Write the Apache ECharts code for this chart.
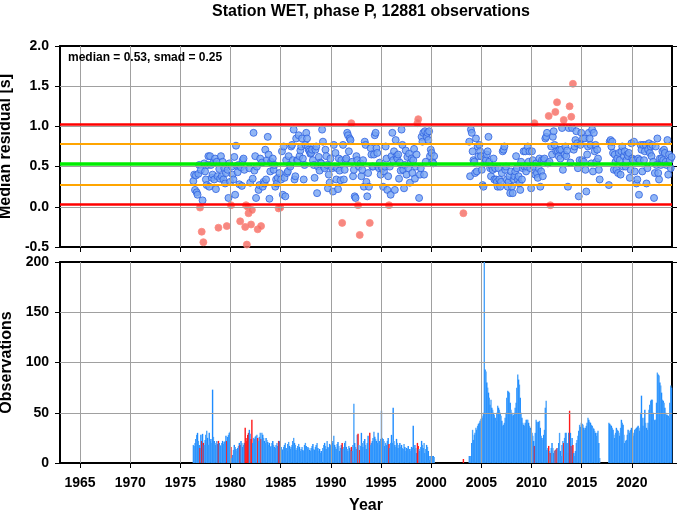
<!DOCTYPE html>
<html><head><meta charset="utf-8">
<script src="https://cdn.jsdelivr.net/npm/echarts@6/dist/echarts.min.js"></script>
<style>html,body{margin:0;padding:0;background:#fff}#c{width:678px;height:511px}</style>
</head><body><div id="c"></div>
<script>
// ---- summary statistics ----
const median = 0.53;
const smad = 0.25;
const nObs = 12881;

// ---- axis ticks ----
const yearTicks = [1965,1970,1975,1980,1985,1990,1995,2000,2005,2010,2015,2020];
const residTicks = [-0.5,0.0,0.5,1.0,1.5,2.0];
const countTicks = [0,50,100,150,200];

// ---- monthly segments: start (decimal year of first month), residuals, counts ----
// Segment A: Apr 1976 - Apr 2000
const startA = 1976.25;
const residA = [
 0.32,0.40,0.21,0.39,0.18,0.15,0.41,0.52,-0.01,
 0.46,-0.31,0.08,-0.44,0.54,0.44,0.34,0.27,0.52,0.63,0.25,0.63,
 0.52,0.36,0.40,0.55,0.34,0.60,0.22,0.56,0.38,-0.26,0.47,0.35,
 0.63,0.38,0.56,0.34,0.48,0.29,0.42,-0.24,0.46,0.11,0.54,0.31,
 0.02,0.50,0.40,0.34,0.62,0.15,0.76,0.51,0.43,0.52,0.28,-0.18,
 0.49,0.26,0.58,0.60,0.46,-0.25,0.02,-0.47,0.00,-0.08,0.48,0.30,
 -0.22,-0.04,0.35,0.92,0.45,0.63,0.11,0.50,-0.28,0.21,0.27,0.60,
 -0.24,0.55,0.25,0.31,0.29,0.71,0.34,0.58,0.87,0.65,0.10,0.44,
 0.56,0.54,0.60,0.46,0.52,0.25,0.34,0.29,0.36,-0.02,0.42,-0.01,
 0.34,0.69,0.15,0.75,0.36,0.13,0.58,0.42,0.44,0.63,0.52,0.50,
 0.75,0.77,0.58,0.96,0.34,0.38,0.85,0.58,0.58,0.89,0.63,0.70,
 0.75,0.85,0.60,0.34,0.52,0.77,0.92,0.85,0.75,0.71,0.69,0.66,
 0.67,0.71,0.58,0.52,0.36,0.71,0.75,0.17,0.50,0.62,0.45,0.55,
 0.54,0.96,0.81,0.50,0.48,0.71,0.63,0.52,0.23,0.40,0.30,0.60,
 0.50,0.48,0.19,0.77,0.50,0.67,0.34,0.48,0.22,0.60,0.45,0.33,
 0.58,-0.20,0.77,0.34,0.46,0.58,0.60,0.92,0.89,0.69,0.85,0.83,
 1.04,0.56,0.38,0.46,0.13,0.11,0.63,0.58,0.02,0.50,-0.35,0.54,
 0.38,0.46,0.58,0.25,0.81,0.77,0.31,0.13,0.42,0.25,-0.20,0.73,
 0.65,0.50,0.50,0.65,0.89,0.92,0.73,0.67,0.50,0.48,0.55,0.40,
 0.50,0.48,0.25,0.44,0.50,0.75,0.60,0.21,0.38,0.02,0.50,0.15,
 0.63,0.92,0.58,0.69,0.21,0.83,0.63,0.60,0.65,0.35,0.55,0.45,
 0.96,0.77,0.46,0.23,0.52,0.70,0.40,0.62,0.48,0.66,0.30,0.55,
 0.60,0.42,0.58,0.72,0.35,0.50,0.65,1.04,1.09,0.11,0.40,0.48,
 0.87,0.81,0.92,0.40,0.94,0.56,0.87,0.92,0.83,0.94,0.63,0.71,
 0.67,0.56,0.54,0.63
];
const countA = [
 18,17,20,24,28,30,22,18,15,
 28,22,29,20,18,23,28,32,25,18,30,22,
 24,20,73,26,22,20,18,22,19,22,20,18,
 17,20,22,19,21,22,27,22,26,28,30,31,
 16,5,8,13,18,16,14,12,15,17,20,18,
 22,20,16,18,20,35,25,22,28,30,33,29,
 24,43,20,25,24,26,27,28,25,22,26,30,
 24,30,28,25,22,20,25,23,21,18,20,16,
 17,20,22,18,16,15,18,20,17,22,22,21,
 16,14,13,16,18,20,15,12,19,21,17,14,
 16,18,22,25,20,18,13,15,17,19,16,12,
 14,16,13,12,18,20,17,14,16,15,13,12,
 15,17,19,14,13,16,18,20,15,12,14,10,
 12,1,15,18,20,17,14,22,16,15,19,18,
 17,20,22,27,18,16,14,19,21,17,12,15,
 18,20,14,16,20,22,16,14,12,17,15,13,
 16,12,18,59,20,16,14,28,29,18,13,17,
 30,20,16,22,24,18,14,20,27,15,30,18,
 20,22,25,31,26,24,22,20,30,18,22,24,
 52,25,24,22,17,20,18,22,25,19,15,20,
 28,20,55,22,18,16,24,20,15,18,20,16,
 18,15,14,19,16,12,15,14,17,14,14,12,
 16,15,37,14,18,15,10,20,17,14,12,16,
 22,18,15,20,10,14,18,16,12,3,7,7,
 7,7,7,6
];
// Segment B: Mar 2003
const startB = 2003 + 2/12;
const residB = [-0.08];
const countB = [4];
// Segment C: Oct 2003 - Oct 2016
const startC = 2003.75;
const residC = [
 0.81,0.38,0.96,
 0.92,0.69,0.58,0.56,0.42,0.85,0.44,0.75,0.63,0.77,0.69,0.63,
 0.46,0.27,0.25,0.54,0.60,0.58,0.65,0.69,0.87,0.56,0.48,0.38,
 0.50,0.46,0.60,0.34,0.48,0.34,0.31,0.25,0.48,0.34,0.25,0.31,
 0.42,0.69,0.71,0.75,0.46,0.50,0.34,0.25,0.31,0.38,0.17,0.44,
 0.25,0.17,0.34,0.38,0.44,0.63,0.48,0.34,0.38,0.29,0.21,0.56,
 0.34,0.48,0.69,0.50,0.69,0.44,0.50,0.75,0.56,0.69,0.48,0.23,
 0.69,0.58,0.50,1.04,0.40,0.54,0.42,0.36,0.48,0.60,0.25,0.44,
 0.58,0.38,0.58,0.60,0.85,0.87,0.92,0.54,1.13,0.56,0.02,0.75,
 0.65,0.87,0.94,0.77,1.18,0.69,1.30,0.69,0.63,0.71,0.60,0.71,
 0.98,0.46,1.08,0.65,0.75,0.63,0.70,0.25,0.98,1.25,0.55,1.12,
 0.98,1.53,0.71,0.75,0.83,0.94,0.79,0.48,0.13,0.58,0.77,0.92,
 0.58,0.85,0.56,0.85,0.46,0.19,0.65,0.75,0.92,0.85,0.77,0.54,
 0.96,0.44,0.92,0.69,0.77,0.56,0.71,0.60,0.46,0.34
];
const countC = [
 7,7,7,
 20,33,23,28,30,35,33,37,39,40,42,44,
 47,45,50,200,93,91,80,75,70,65,58,63,
 55,53,50,48,45,42,50,57,55,53,50,47,
 42,37,38,40,45,50,65,72,71,70,60,53,
 50,47,48,50,55,60,75,88,83,78,65,50,
 45,40,38,37,40,43,43,43,40,37,35,33,
 30,27,22,17,30,43,41,40,41,42,35,27,
 25,23,28,33,55,62,13,15,17,12,10,15,
 20,15,10,12,13,14,15,15,20,30,12,7,
 18,22,20,25,30,30,20,10,30,52,30,17,
 25,18,10,7,12,20,23,27,32,38,36,40,
 39,38,35,33,35,37,40,45,43,41,40,38,
 37,35,34,32,30,27,30,32,20,5
];
// Segment D: Sep 2017 - Dec 2023
const startD = 2017 + 8/12;
const residD = [
 0.27,0.81,0.83,0.75,0.81,0.67,0.46,0.65,0.56,0.46,
 0.60,0.42,0.67,0.58,0.40,0.69,0.75,0.50,0.63,0.69,
 0.50,0.58,0.65,0.63,0.67,0.36,0.46,0.79,0.60,0.58,
 0.81,0.44,0.58,0.29,0.34,0.60,0.15,0.58,0.77,0.71,
 0.44,0.77,0.58,0.69,0.77,0.29,0.48,0.71,0.79,0.67,
 0.75,0.63,0.77,0.56,0.11,0.42,0.75,0.52,0.85,0.42,
 0.34,0.60,0.52,0.60,0.69,0.58,0.71,0.67,0.56,0.52,
 0.83,0.40,0.65,0.58,0.48,0.62
];
const countD = [
 40,39,38,37,35,33,28,25,30,35,
 33,32,30,27,35,43,40,38,28,20,
 22,23,28,33,32,30,33,35,30,27,
 30,33,34,35,36,37,35,32,50,67,
 45,37,45,53,40,35,33,40,53,58,
 62,63,63,50,42,43,43,60,90,88,
 87,80,77,70,63,62,60,55,50,48,
 48,47,45,60,77,75
];

const segments = [
  {start: startA, resid: residA, count: countA},
  {start: startB, resid: residB, count: countB},
  {start: startC, resid: residC, count: countC},
  {start: startD, resid: residD, count: countD}
];

const lo = median - 2*smad, hi = median + 2*smad;
const bluePts = [], redPts = [], bars = [];
segments.forEach(s => {
  s.resid.forEach((v, i) => {
    const t = s.start + (i + 0.5) / 12;
    const out = v < lo || v > hi;
    (out ? redPts : bluePts).push([t, v]);
    bars.push({value: [t, s.count[i]], itemStyle: {color: out ? '#ff1a1a' : (i % 2 ? '#1e8cff' : '#4aa3fa')}});
  });
});

const FONT = 'Liberation Sans, Arial, Helvetica, sans-serif';
const lab = {color: '#000', fontFamily: FONT, fontWeight: 'bold', fontSize: 14};
const G = [{left: 60, top: 46, width: 612, height: 201, outerBoundsMode: 'none', containLabel: false},
           {left: 60, top: 262, width: 612, height: 201, outerBoundsMode: 'none', containLabel: false}];
const XMIN = 1963, XMAX = 2024;

function xAx(gi, showLabel, top) {
  return {
    type: 'value', gridIndex: gi, min: XMIN, max: XMAX, position: top ? 'top' : 'bottom',
    axisLine: {show: true, onZero: false, lineStyle: {color: '#000', width: 2}},
    axisTick: {show: !top, length: 5, customValues: yearTicks, lineStyle: {color: '#000', width: 1}},
    axisLabel: Object.assign({show: showLabel && !top, margin: 13, customValues: yearTicks, formatter: v => String(v)}, lab),
    splitLine: {show: false},
    name: (showLabel && !top) ? 'Year' : '', nameLocation: 'middle', nameGap: 35,
    nameTextStyle: {color: '#000', fontFamily: FONT, fontWeight: 'bold', fontSize: 16}
  };
}
function yAx(gi, ticks, fmt, name, right) {
  return {
    type: 'value', gridIndex: gi, min: ticks[0], max: ticks[ticks.length - 1], position: right ? 'right' : 'left',
    axisLine: {show: true, onZero: false, lineStyle: {color: '#000', width: 2}},
    axisTick: {show: true, length: 5, customValues: ticks, lineStyle: {color: '#000', width: 1}},
    axisLabel: Object.assign({show: !right, margin: 11, customValues: ticks, formatter: fmt}, lab),
    splitLine: {show: false},
    name: right ? '' : name, nameLocation: 'middle', nameGap: 41,
    nameTextStyle: {color: '#000', fontFamily: FONT, fontWeight: 'bold', fontSize: 16}
  };
}

const refLines = [
  {y: hi, c: '#ff0000', w: 2.5},
  {y: median + smad, c: '#ffa500', w: 2},
  {y: median, c: '#00ee00', w: 3.5},
  {y: median - smad, c: '#ffa500', w: 2},
  {y: lo, c: '#ff0000', w: 2.5}
];
const gridStyle = {color: '#a0a0a0', width: 1, type: 'solid'};
function gridLines(yTicks) {
  return yearTicks.map(x => ({xAxis: x, lineStyle: gridStyle}))
    .concat(yTicks.slice(1, -1).map(y => ({yAxis: y, lineStyle: gridStyle})));
}

const chart = echarts.init(document.getElementById('c'), null, {renderer: 'canvas'});
chart.setOption({
  animation: false,
  backgroundColor: '#fff',
  title: [
    {text: 'Station WET, phase P, ' + nObs + ' observations', left: 366, top: -1, textAlign: 'center',
     textStyle: {fontFamily: FONT, fontWeight: 'bold', fontSize: 16, color: '#000'}},
    {text: 'median = ' + median.toFixed(2) + ', smad = ' + smad.toFixed(2), left: 63, top: 47,
     textStyle: {fontFamily: FONT, fontWeight: 'bold', fontSize: 12, color: '#000'}}
  ],
  grid: G,
  xAxis: [xAx(0, false, false), xAx(1, true, false), xAx(0, false, true), xAx(1, false, true)],
  yAxis: [
    yAx(0, residTicks, v => v.toFixed(1), 'Median residual [s]', false),
    yAx(1, countTicks, v => String(v), 'Observations', false),
    yAx(0, residTicks, null, '', true),
    yAx(1, countTicks, null, '', true)
  ],
  series: [
    {type: 'line', xAxisIndex: 0, yAxisIndex: 0, data: [], silent: true, z: 1,
     markLine: {silent: true, symbol: 'none', label: {show: false}, animation: false,
       data: gridLines(residTicks)}},
    {type: 'line', xAxisIndex: 1, yAxisIndex: 1, data: [], silent: true, z: 1,
     markLine: {silent: true, symbol: 'none', label: {show: false}, animation: false,
       data: gridLines(countTicks)}},
    {type: 'line', xAxisIndex: 0, yAxisIndex: 0, data: [], silent: true, z: 2,
     markLine: {silent: true, symbol: 'none', label: {show: false}, animation: false,
       data: refLines.map(r => ({yAxis: r.y, lineStyle: {color: r.c, width: r.w, type: 'solid'}}))}},
    {type: 'scatter', xAxisIndex: 0, yAxisIndex: 0, data: bluePts, symbolSize: 7, z: 3,
     itemStyle: {color: '#76a4f2', borderColor: '#2f62e0', borderWidth: 1}},
    {type: 'scatter', xAxisIndex: 0, yAxisIndex: 0, data: redPts, symbolSize: 7, z: 3,
     itemStyle: {color: '#f46a62', borderColor: '#ff8a80', borderWidth: 1}},
    {type: 'bar', xAxisIndex: 1, yAxisIndex: 1, data: bars, barWidth: 1.4, z: 3}
  ]
});
</script></body></html>
